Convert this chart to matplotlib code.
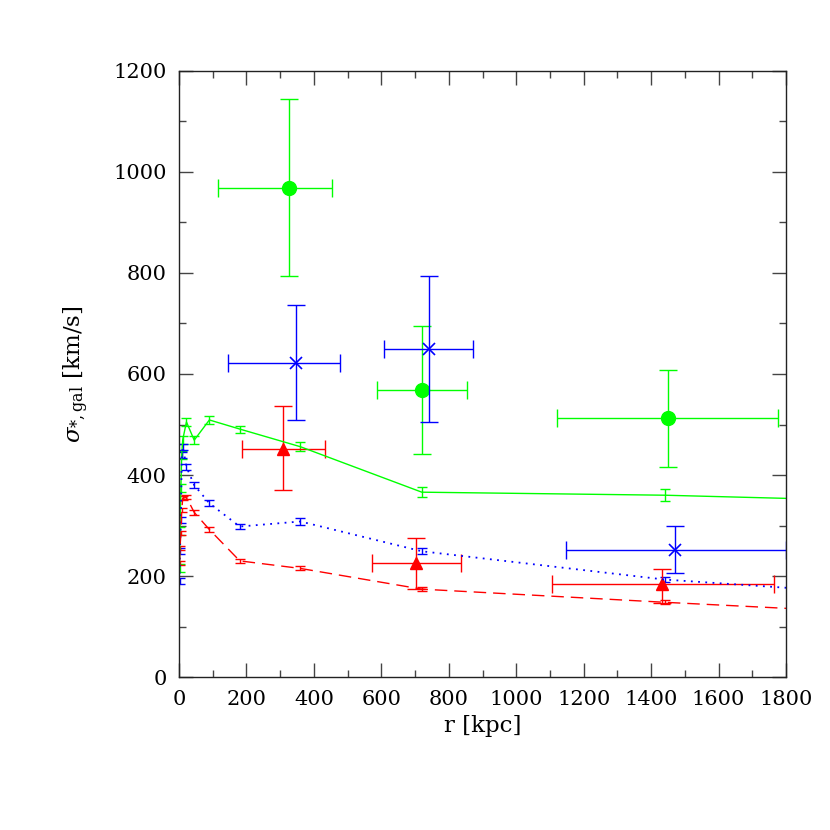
import matplotlib
matplotlib.use("Agg")
import matplotlib.pyplot as plt
import numpy as np
from matplotlib.ticker import MultipleLocator

plt.rcParams['font.family'] = ['DejaVu Serif']
plt.rcParams['mathtext.fontset'] = 'dejavuserif'

# Profile curves (radial bins, kpc)
r_prof = [1.4, 2.8, 5.6, 8.0, 11.0, 22.0, 45.0, 90.0, 180.0, 360.0, 720.0, 1440.0, 2880.0]
green_prof = [215.0, 290.0, 375.0, 440.0, 470.0, 505.0, 469.0, 509.0, 491.0, 456.0, 366.0, 360.0, 335.0]
green_perr = [8, 8, 8, 8, 8, 8, 8, 8, 7, 9, 10, 12, 12]
blue_prof = [190.0, 250.0, 310.0, 440.0, 456.0, 416.0, 380.0, 344.0, 298.0, 308.0, 249.0, 193.0, 128.0]
blue_perr = [6, 6, 6, 6, 6, 6, 6, 6, 5, 6, 6, 5, 5]
red_prof = [225.0, 255.0, 285.0, 330.0, 354.0, 356.0, 326.0, 292.0, 230.0, 215.0, 174.0, 148.0, 100.0]
red_perr = [4, 4, 4, 4, 4, 4, 5, 5, 4, 4, 4, 4, 4]

# Binned observational points
green_r = [326.0, 720.0, 1450.0]
green_v = [968.0, 568.0, 512.0]
green_rlo = [116.0, 588.0, 1121.0]
green_rhi = [454.0, 853.0, 1776.0]
green_vlo = [794.0, 441.0, 416.0]
green_vhi = [1145.0, 695.0, 608.0]

blue_r = [347.0, 740.0, 1472.0]
blue_v = [622.0, 649.0, 252.0]
blue_rlo = [145.0, 608.0, 1148.0]
blue_rhi = [477.0, 873.0, 1800.0]
blue_vlo = [509.0, 504.0, 205.0]
blue_vhi = [737.0, 794.0, 300.0]

red_r = [308.0, 703.0, 1432.0]
red_v = [452.0, 225.0, 184.0]
red_rlo = [187.0, 571.0, 1106.0]
red_rhi = [433.0, 835.0, 1763.0]
red_vlo = [370.0, 175.0, 147.0]
red_vhi = [537.0, 275.0, 214.0]

GREEN = '#00ff00'
BLUE = '#0000ff'
RED = '#ff0000'

fig = plt.figure(figsize=(8.3, 8.3), dpi=100)
ax = fig.add_axes([0.2157, 0.1843, 0.7313, 0.7302])

# profile lines
ax.errorbar(r_prof, green_prof, yerr=green_perr, color=GREEN, lw=1.0, ls='-',
            elinewidth=1.0, capsize=3.5, capthick=1.0)
ax.errorbar(r_prof, blue_prof, yerr=blue_perr, color=BLUE, lw=1.3, ls=(0, (1, 3)),
            elinewidth=1.0, capsize=3.5, capthick=1.0)
ax.errorbar(r_prof, red_prof, yerr=red_perr, color=RED, lw=1.0, ls=(0, (9, 5)),
            elinewidth=1.0, capsize=3.5, capthick=1.0)

def pts(r, v, rlo, rhi, vlo, vhi, color, marker, ms, mew=1.0):
    r = np.array(r); v = np.array(v)
    xerr = [r - np.array(rlo), np.array(rhi) - r]
    yerr = [v - np.array(vlo), np.array(vhi) - v]
    ax.errorbar(r, v, xerr=xerr, yerr=yerr, fmt='none', ecolor=color,
                elinewidth=1.0, capsize=6.5, capthick=1.0)
    ax.plot(r, v, ls='none', marker=marker, ms=ms, color=color, mew=mew)

pts(green_r, green_v, green_rlo, green_rhi, green_vlo, green_vhi, GREEN, 'o', 10)
pts(blue_r, blue_v, blue_rlo, blue_rhi, blue_vlo, blue_vhi, BLUE, 'x', 8, 1.2)
pts(red_r, red_v, red_rlo, red_rhi, red_vlo, red_vhi, RED, '^', 9)

ax.set_xlim(0, 1800)
ax.set_ylim(0, 1200)
ax.xaxis.set_major_locator(MultipleLocator(200))
ax.xaxis.set_minor_locator(MultipleLocator(100))
ax.yaxis.set_major_locator(MultipleLocator(200))
ax.yaxis.set_minor_locator(MultipleLocator(100))
ax.tick_params(which='both', direction='in', top=True, right=True, color='#444444')
ax.tick_params(which='major', length=10, width=1.0, labelsize=15, pad=9)
ax.tick_params(which='minor', length=5, width=1.0)
for s in ax.spines.values():
    s.set_linewidth(1.0)
    s.set_color('#222222')

ax.set_xlabel('r [kpc]', fontsize=16.5, labelpad=5)
ax.set_ylabel(r'$\sigma_{*,\mathrm{gal}}$ [km/s]', fontsize=16.5, labelpad=16)

fig.savefig('out.png', dpi=100)
